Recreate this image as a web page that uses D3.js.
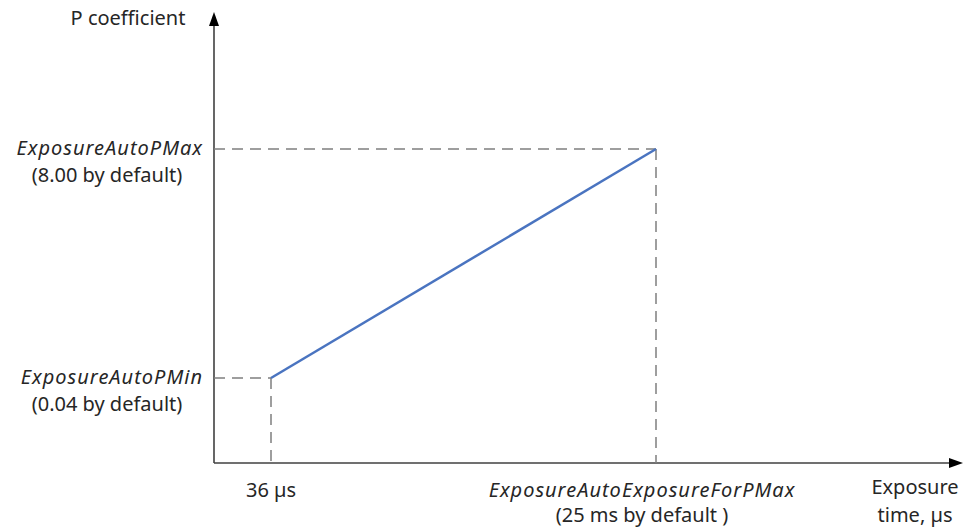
<!DOCTYPE html>
<html><head><meta charset="utf-8">
<script src="https://cdn.jsdelivr.net/npm/d3@7"></script>
<style>body{margin:0;background:#fff}</style>
</head><body>
<svg id="c" width="965" height="529"></svg>
<script>
const exposureValues = [36, 25000];          // µs
const pValues = [0.04, 8.00];               // P coefficient
const yLabels = [
  ["ExposureAutoPMin", "(0.04 by default)"],
  ["ExposureAutoPMax", "(8.00 by default)"]
];
const xLabels = [
  ["36 µs"],
  ["ExposureAutoExposureForPMax", "(25 ms by default )"]
];
const yTitle = "P coefficient";
const xTitle = ["Exposure", "time, µs"];

const svg = d3.select("#c");
const font = "'Noto Sans', sans-serif";
const fs = 20;
const originX = 214, originY = 463, xEnd = 963, yEnd = 12;

const x = d3.scaleLinear().domain(exposureValues).range([271, 656]);
const y = d3.scaleLinear().domain(pValues).range([378, 149]);

const axisCol = "#404040";
const txt = "#262626";
// axes
svg.append("line").attr("x1", originX).attr("y1", originY).attr("x2", xEnd - 12).attr("y2", originY)
  .attr("stroke", axisCol).attr("stroke-width", 1.6);
svg.append("line").attr("x1", originX).attr("y1", originY).attr("x2", originX).attr("y2", yEnd + 12)
  .attr("stroke", axisCol).attr("stroke-width", 1.6);
svg.append("path").attr("d", `M${xEnd},${originY} L${xEnd-14},${originY-5} L${xEnd-14},${originY+5} Z`).attr("fill", "#000");
svg.append("path").attr("d", `M${originX},${yEnd} L${originX-5},${yEnd+14} L${originX+5},${yEnd+14} Z`).attr("fill", "#000");

// dashed guides
const dash = "#7f7f7f";
exposureValues.forEach((v, i) => {
  const px = x(v), py = y(pValues[i]);
  svg.append("line").attr("x1", originX).attr("x2", px).attr("y1", py).attr("y2", py)
    .attr("stroke", dash).attr("stroke-width", 1.5).attr("stroke-dasharray", "11,7");
  svg.append("line").attr("x1", px).attr("x2", px).attr("y1", py).attr("y2", originY)
    .attr("stroke", dash).attr("stroke-width", 1.5).attr("stroke-dasharray", "11,7");
});

// line
const pts = exposureValues.map((v, i) => [x(v), y(pValues[i])]);
svg.append("path").attr("d", d3.line()(pts)).attr("fill", "none")
  .attr("stroke", "#4a74c0").attr("stroke-width", 2.5);

function label(xp, yp, t, anchor, italic) {
  svg.append("text").attr("x", xp).attr("y", yp).attr("text-anchor", anchor)
    .attr("font-family", font).attr("font-size", fs)
    .attr("font-style", italic ? "italic" : "normal")
    .attr("letter-spacing", italic ? 1 : 0)
    .attr("fill", txt).text(t);
}
// y labels
yLabels.forEach((lab, i) => {
  const py = y(pValues[i]);
  label(203, py + 6, lab[0], "end", true);
  label(107, py + 33, lab[1], "middle", false);
});
// x labels
xLabels.forEach((lab, i) => {
  const px = x(exposureValues[i]);
  label(i === 0 ? px : px - 14, 497, lab[0], "middle", i === 1);
  if (lab[1]) label(px - 14, 522, lab[1], "middle", false);
});
label(128, 25, yTitle, "middle", false);
xTitle.forEach((t, i) => label(915, 494 + i * 28, t, "middle", false));
</script>
</body></html>
